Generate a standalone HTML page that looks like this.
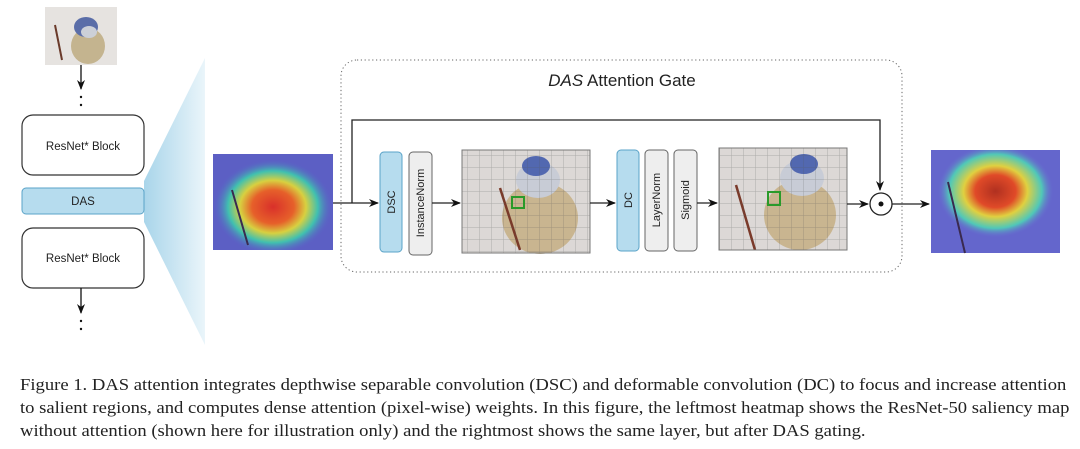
<!DOCTYPE html>
<html><head><style>
body{margin:0;width:1080px;height:449px;background:#fff;overflow:hidden;position:relative;font-family:"Liberation Sans",sans-serif}
.cap{position:absolute;left:20px;top:373px;font-family:"Liberation Serif",serif;font-size:17px;line-height:23px;color:#222;white-space:nowrap;transform:scaleX(1.095);transform-origin:0 0}
</style></head><body>
<svg width="1080" height="370" style="position:absolute;left:0;top:0" font-family="Liberation Sans, sans-serif">
<defs>
<linearGradient id="fun" x1="0" x2="1"><stop offset="0" stop-color="#a9d5ea"/><stop offset="1" stop-color="#eaf5fa"/></linearGradient>
<radialGradient id="heatL" cx="0.5" cy="0.55" r="0.5"><stop offset="0" stop-color="#d9302a"/><stop offset="0.35" stop-color="#e6602a"/><stop offset="0.55" stop-color="#d8d040"/><stop offset="0.75" stop-color="#40c0b0"/><stop offset="1" stop-color="#5a5cc8" stop-opacity="0"/></radialGradient>
<radialGradient id="heatR" cx="0.5" cy="0.4" r="0.45"><stop offset="0" stop-color="#b03020"/><stop offset="0.35" stop-color="#e04a28"/><stop offset="0.55" stop-color="#e0d040"/><stop offset="0.8" stop-color="#50c8b8"/><stop offset="1" stop-color="#6a6ad0" stop-opacity="0"/></radialGradient>
<pattern id="grid" width="12" height="12" patternUnits="userSpaceOnUse"><path d="M12 0V12H0" fill="none" stroke="#555" stroke-opacity="0.35" stroke-width="1"/></pattern>
<marker id="ar" markerWidth="10" markerHeight="10" refX="9" refY="5" orient="auto" markerUnits="userSpaceOnUse"><path d="M0 1L10 5L0 9L3 5z" fill="#111"/></marker>
</defs>
<rect x="45" y="7" width="72" height="58" fill="#e6e3e0"/>
<ellipse cx="88" cy="46" rx="17" ry="18" fill="#c4b48f"/>
<ellipse cx="86" cy="27" rx="12" ry="10" fill="#5a6da8"/>
<ellipse cx="89" cy="32" rx="8" ry="6" fill="#ccd0d8"/>
<path d="M55 25L62 60" stroke="#6a3a2a" stroke-width="2"/>
<line x1="81" y1="65" x2="81" y2="89" stroke="#111" stroke-width="1.3" marker-end="url(#ar)"/>
<circle cx="81" cy="97" r="1.2" fill="#111"/><circle cx="81" cy="105" r="1.2" fill="#111"/>
<polygon points="144,181 205,58 205,345 144,222" fill="url(#fun)"/>
<rect x="22" y="115" width="122" height="60" rx="11" fill="#fff" stroke="#333" stroke-width="1.2"/>
<text x="83" y="150" font-size="11.5" text-anchor="middle" fill="#222">ResNet* Block</text>
<rect x="22" y="188" width="122" height="26" rx="4" fill="#b6dcee" stroke="#5aa3c8" stroke-width="1"/>
<text x="83" y="205" font-size="11.5" text-anchor="middle" fill="#222">DAS</text>
<rect x="22" y="228" width="122" height="60" rx="11" fill="#fff" stroke="#333" stroke-width="1.2"/>
<text x="83" y="262" font-size="11.5" text-anchor="middle" fill="#222">ResNet* Block</text>
<line x1="81" y1="288" x2="81" y2="313" stroke="#111" stroke-width="1.3" marker-end="url(#ar)"/>
<circle cx="81" cy="321" r="1.2" fill="#111"/><circle cx="81" cy="329" r="1.2" fill="#111"/>
<rect x="213" y="154" width="120" height="96" fill="#5c5fc4"/>
<rect x="213" y="154" width="120" height="96" fill="url(#heatL)"/>
<path d="M232 190L248 245" stroke="#3a2a50" stroke-width="2"/>
<rect x="341" y="60" width="561" height="212" rx="16" fill="none" stroke="#666" stroke-width="1" stroke-dasharray="1.2 2.6"/>
<text x="622" y="86" font-size="17" text-anchor="middle" fill="#222"><tspan font-style="italic">DAS</tspan> Attention Gate</text>
<polyline points="352,203 352,120 880,120 880,190" fill="none" stroke="#222" stroke-width="1.3" marker-end="url(#ar)"/>
<line x1="333" y1="203" x2="378" y2="203" stroke="#222" stroke-width="1.3" marker-end="url(#ar)"/>
<rect x="380" y="152" width="22" height="100" rx="4" fill="#b6dcee" stroke="#5aa3c8"/>
<text transform="translate(395,202) rotate(-90)" font-size="11" text-anchor="middle" fill="#222">DSC</text>
<rect x="409" y="152" width="23" height="103" rx="4" fill="#eee" stroke="#666"/>
<text transform="translate(424,203) rotate(-90)" font-size="11" text-anchor="middle" fill="#222">InstanceNorm</text>
<line x1="432" y1="203" x2="460" y2="203" stroke="#222" stroke-width="1.3" marker-end="url(#ar)"/>
<g>
<rect x="462" y="150" width="128" height="103" fill="#dcd8d6"/>
<ellipse cx="540" cy="218" rx="38" ry="36" fill="#c9b590"/>
<ellipse cx="538" cy="180" rx="22" ry="18" fill="#c8ccd6"/>
<ellipse cx="536" cy="166" rx="14" ry="10" fill="#5268b0"/>
<path d="M500 188L520 250" stroke="#7a3a2a" stroke-width="2.5"/>
<rect x="462" y="150" width="128" height="103" fill="url(#grid)" stroke="#777"/>
<rect x="512" y="197" width="12" height="11" fill="none" stroke="#2a9a2a" stroke-width="2"/>
</g>
<line x1="590" y1="203" x2="615" y2="203" stroke="#222" stroke-width="1.3" marker-end="url(#ar)"/>
<rect x="617" y="150" width="22" height="101" rx="4" fill="#b6dcee" stroke="#5aa3c8"/>
<text transform="translate(632,200) rotate(-90)" font-size="11" text-anchor="middle" fill="#222">DC</text>
<rect x="645" y="150" width="23" height="101" rx="4" fill="#eee" stroke="#666"/>
<text transform="translate(660,200) rotate(-90)" font-size="11" text-anchor="middle" fill="#222">LayerNorm</text>
<rect x="674" y="150" width="23" height="101" rx="4" fill="#eee" stroke="#666"/>
<text transform="translate(689,200) rotate(-90)" font-size="11" text-anchor="middle" fill="#222">Sigmoid</text>
<line x1="697" y1="203" x2="717" y2="203" stroke="#222" stroke-width="1.3" marker-end="url(#ar)"/>
<g>
<rect x="719" y="148" width="128" height="102" fill="#dcd8d6"/>
<ellipse cx="800" cy="215" rx="36" ry="35" fill="#c9b590"/>
<ellipse cx="802" cy="178" rx="22" ry="18" fill="#c8ccd6"/>
<ellipse cx="804" cy="164" rx="14" ry="10" fill="#5268b0"/>
<path d="M736 185L755 250" stroke="#7a3a2a" stroke-width="2.5"/>
<rect x="719" y="148" width="128" height="102" fill="url(#grid)" stroke="#777"/>
<rect x="768" y="192" width="12" height="13" fill="none" stroke="#2a9a2a" stroke-width="2"/>
</g>
<line x1="847" y1="204" x2="868" y2="204" stroke="#222" stroke-width="1.3" marker-end="url(#ar)"/>
<circle cx="881" cy="204" r="11" fill="#fff" stroke="#222" stroke-width="1.3"/>
<circle cx="881" cy="204" r="2.5" fill="#111"/>
<line x1="892" y1="204" x2="929" y2="204" stroke="#222" stroke-width="1.3" marker-end="url(#ar)"/>
<rect x="931" y="150" width="129" height="103" fill="#6466cc"/>
<rect x="931" y="150" width="129" height="103" fill="url(#heatR)"/>
<path d="M948 182L965 253" stroke="#3a2a50" stroke-width="2"/>
</svg>
<div class="cap">Figure 1. DAS attention integrates depthwise separable convolution (DSC) and deformable convolution (DC) to focus and increase attention<br>to salient regions, and computes dense attention (pixel-wise) weights. In this figure, the leftmost heatmap shows the ResNet-50 saliency map<br>without attention (shown here for illustration only) and the rightmost shows the same layer, but after DAS gating.</div>
</body></html>
